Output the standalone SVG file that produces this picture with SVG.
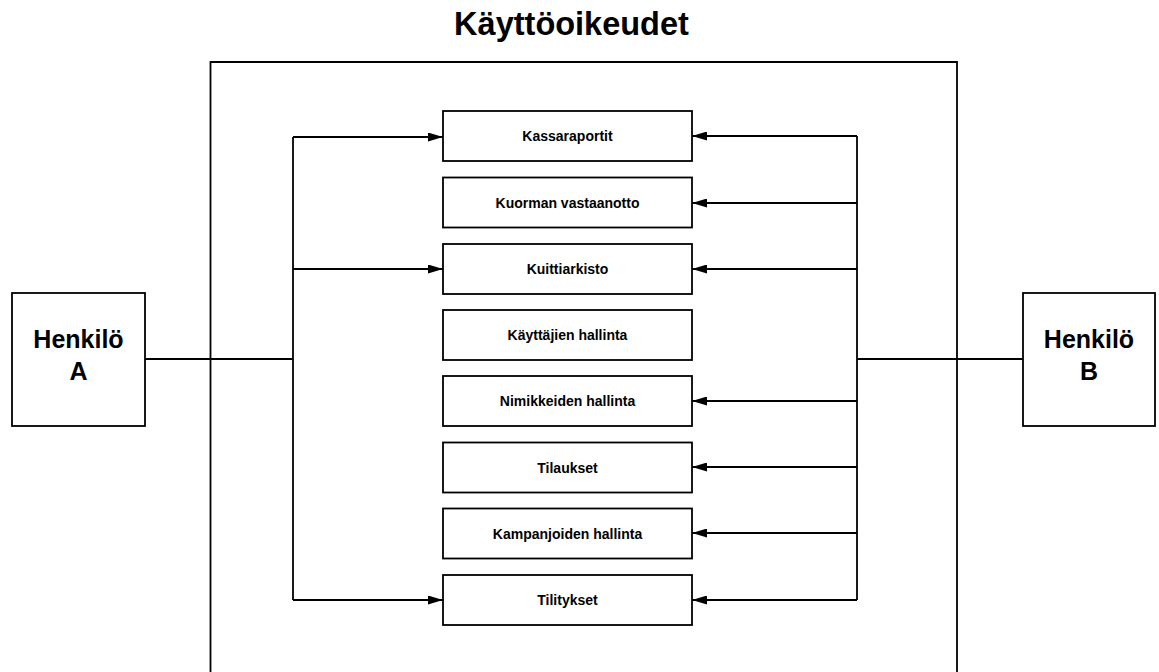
<svg xmlns="http://www.w3.org/2000/svg" width="1159" height="672" viewBox="0 0 1159 672">
<style>
.box{fill:#fff;stroke:#000;stroke-width:1.8}
.ln{fill:none;stroke:#000;stroke-width:1.8}
.t{font-family:"Liberation Sans",Arial,sans-serif;font-weight:bold;fill:#000;text-anchor:middle}
.s{font-size:14px}
.p{font-size:25px}
</style>
<defs>
<marker id="ah" markerWidth="15" markerHeight="9" refX="15" refY="4.5" orient="auto" markerUnits="userSpaceOnUse">
<path d="M0,0 L15,4.5 L0,9 Z" fill="#000"/>
</marker>
</defs>
<rect width="1159" height="672" fill="#fff"/>
<text class="t" x="571.5" y="35" font-size="32.5">Käyttöoikeudet</text>
<g id="frame"><path class="ln" d="M210.5,675 V62 H957 V675"/></g>
<g id="connectors">
<path class="ln" d="M145,359 H293"/>
<path class="ln" d="M293,137 V600"/>
<path class="ln" d="M293,137 H443" marker-end="url(#ah)"/>
<path class="ln" d="M293,269 H443" marker-end="url(#ah)"/>
<path class="ln" d="M293,600 H443" marker-end="url(#ah)"/>
<path class="ln" d="M1023,359 H857"/>
<path class="ln" d="M857,136 V600"/>
<path class="ln" d="M857,136 H692" marker-end="url(#ah)"/>
<path class="ln" d="M857,203 H692" marker-end="url(#ah)"/>
<path class="ln" d="M857,269 H692" marker-end="url(#ah)"/>
<path class="ln" d="M857,401 H692" marker-end="url(#ah)"/>
<path class="ln" d="M857,467 H692" marker-end="url(#ah)"/>
<path class="ln" d="M857,533 H692" marker-end="url(#ah)"/>
<path class="ln" d="M857,600 H692" marker-end="url(#ah)"/>
</g>
<g id="henkiloA"><rect class="box" x="12" y="293" width="133" height="133"/><text class="t p" x="78.5" y="348">Henkilö</text><text class="t p" x="78.5" y="380">A</text></g>
<g id="henkiloB"><rect class="box" x="1023" y="293" width="132" height="133"/><text class="t p" x="1089" y="348">Henkilö</text><text class="t p" x="1089" y="380">B</text></g>
<g id="kassaraportit"><rect class="box" x="443" y="111" width="249" height="50"/><text class="t s" x="567.5" y="141">Kassaraportit</text></g>
<g id="kuorman"><rect class="box" x="443" y="177.5" width="249" height="50"/><text class="t s" x="567.5" y="207.5">Kuorman vastaanotto</text></g>
<g id="kuittiarkisto"><rect class="box" x="443" y="244" width="249" height="50"/><text class="t s" x="567.5" y="274">Kuittiarkisto</text></g>
<g id="kayttajien"><rect class="box" x="443" y="310" width="249" height="50"/><text class="t s" x="567.5" y="340">Käyttäjien hallinta</text></g>
<g id="nimikkeiden"><rect class="box" x="443" y="376" width="249" height="50"/><text class="t s" x="567.5" y="406">Nimikkeiden hallinta</text></g>
<g id="tilaukset"><rect class="box" x="443" y="442.5" width="249" height="50"/><text class="t s" x="567.5" y="472.5">Tilaukset</text></g>
<g id="kampanjoiden"><rect class="box" x="443" y="508.5" width="249" height="50"/><text class="t s" x="567.5" y="538.5">Kampanjoiden hallinta</text></g>
<g id="tilitykset"><rect class="box" x="443" y="575" width="249" height="50"/><text class="t s" x="567.5" y="605">Tilitykset</text></g>
</svg>
